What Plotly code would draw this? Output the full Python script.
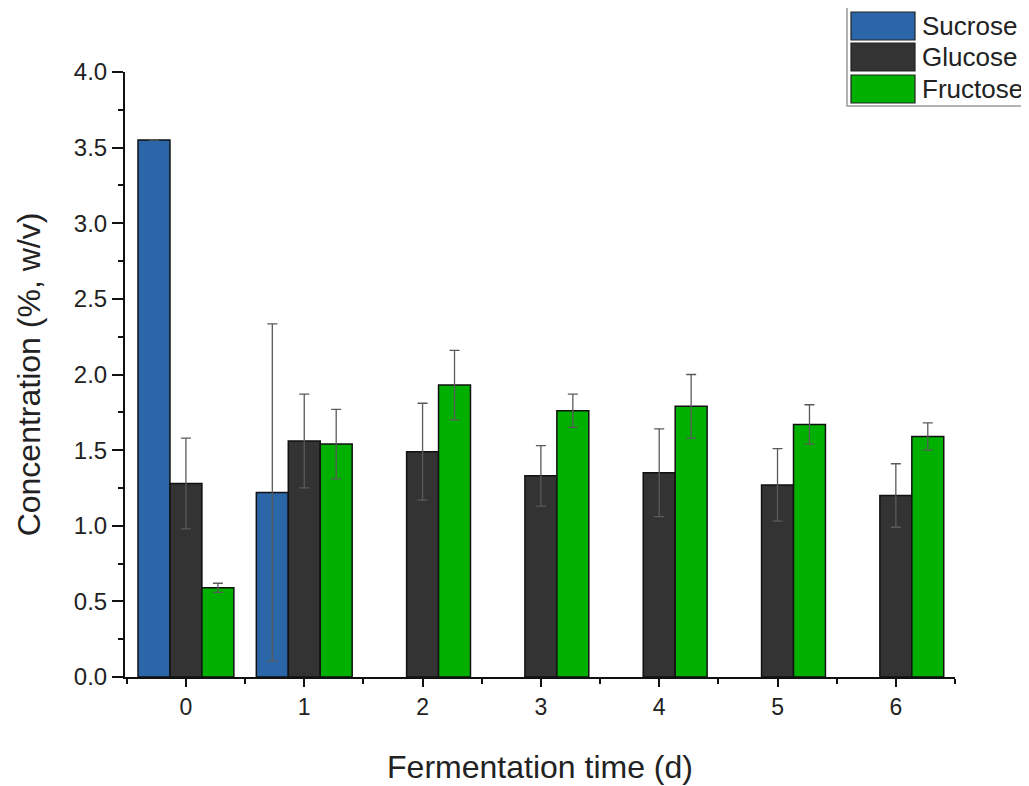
import plotly.graph_objects as go

days = [0, 1, 2, 3, 4, 5, 6]
series_names = ["Sucrose", "Glucose", "Fructose"]
series_colors = ["#2B66A9", "#333333", "#00B000"]

sucrose = [3.55, 1.22, None, None, None, None, None]
sucrose_err = [None, 1.115, None, None, None, None, None]
glucose = [1.28, 1.56, 1.49, 1.33, 1.35, 1.27, 1.20]
glucose_err = [0.30, 0.31, 0.32, 0.20, 0.29, 0.24, 0.21]
fructose = [0.59, 1.54, 1.93, 1.76, 1.79, 1.67, 1.59]
fructose_err = [0.03, 0.23, 0.23, 0.11, 0.21, 0.13, 0.09]

y_ticks = [0.0, 0.5, 1.0, 1.5, 2.0, 2.5, 3.0, 3.5, 4.0]
y_minor = [0.25, 0.75, 1.25, 1.75, 2.25, 2.75, 3.25, 3.75]
x_minor = [-0.5, 0.5, 1.5, 2.5, 3.5, 4.5, 5.5, 6.5]

FONT = "Liberation Sans, Arial, sans-serif"

fig = go.Figure()
for name, vals, errs, color in zip(series_names, [sucrose, glucose, fructose],
                                   [sucrose_err, glucose_err, fructose_err], series_colors):
    fig.add_trace(go.Bar(
        x=days, y=vals, name=name,
        marker=dict(color=color, line=dict(color="#111111", width=1.5)),
        error_y=dict(type="data", array=errs, visible=True,
                     color="#5a5a5a", thickness=1.3, width=5),
        showlegend=False,
    ))

# page has an 8px body offset; figure sized to fit the window
OFF = 8
W, H = 1029 - OFF, 786 - OFF
ml, mr, mt, mb = 125 - OFF, 74, 72 - OFF, 109
pw, ph = W - ml - mr, H - mt - mb

def px_x(p):
    return (p - OFF - ml) / pw

def px_y(p):
    return (H - mb - (p - OFF)) / ph

shapes = [dict(type="rect", xref="paper", yref="paper",
               x0=px_x(847), x1=px_x(1060), y0=px_y(106), y1=px_y(7),
               line=dict(color="#999999", width=1.5), fillcolor="white")]
annotations = []
row_tops = [12, 43, 75]
for i, (name, color) in enumerate(zip(series_names, series_colors)):
    top = row_tops[i]
    shapes.append(dict(type="rect", xref="paper", yref="paper",
                       x0=px_x(851), x1=px_x(915), y0=px_y(top + 28), y1=px_y(top),
                       line=dict(color="#222222", width=1.2), fillcolor=color))
    annotations.append(dict(xref="paper", yref="paper", x=px_x(920), y=px_y(top + 14),
                            text=name, showarrow=False, xanchor="left", yanchor="middle",
                            font=dict(size=26, color="#222222", family=FONT)))

fig.update_layout(
    width=W, height=H,
    margin=dict(l=ml, r=mr, t=mt, b=mb, autoexpand=False),
    barmode="group", bargap=0.19, bargroupgap=0,
    plot_bgcolor="white", paper_bgcolor="white",
    font=dict(family=FONT, size=24, color="#222222"),
    shapes=shapes, annotations=annotations,
)
fig.update_xaxes(
    automargin=False,
    range=[-0.515, 6.5], tickmode="array", tickvals=days, ticktext=[str(d) for d in days],
    showline=True, linecolor="#111111", linewidth=2, showgrid=False, zeroline=False,
    ticks="outside", ticklen=8, tickwidth=2, tickcolor="#111111",
    minor=dict(tickmode="array", tickvals=x_minor, ticks="outside", ticklen=5,
               tickwidth=2, tickcolor="#111111", showgrid=False),
    tickfont=dict(size=23),
    title=dict(text="Fermentation time (d)", font=dict(size=32), standoff=37),
)
fig.update_yaxes(
    automargin=False,
    range=[0, 4.0], tickmode="array", tickvals=y_ticks,
    ticktext=[f"{v:.1f}" for v in y_ticks],
    showline=True, linecolor="#111111", linewidth=2, showgrid=False, zeroline=False,
    ticks="outside", ticklen=11, tickwidth=2, tickcolor="#111111",
    minor=dict(tickmode="array", tickvals=y_minor, ticks="outside", ticklen=5,
               tickwidth=2, tickcolor="#111111", showgrid=False),
    tickfont=dict(size=24),
    title=dict(text="Concentration (%, w/v)", font=dict(size=32), standoff=24),
)

fig.write_html("out.html")
